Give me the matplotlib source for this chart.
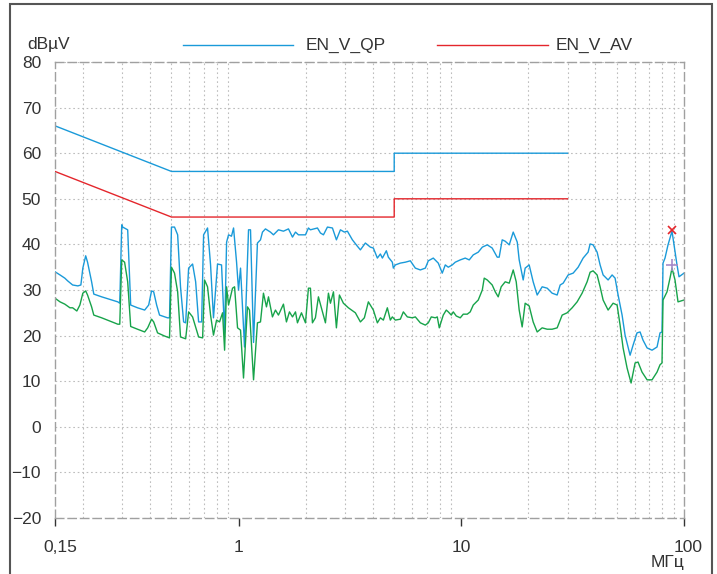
import numpy as np
import matplotlib
matplotlib.use("Agg")
import matplotlib.pyplot as plt
from matplotlib.patches import Rectangle
from matplotlib.ticker import FixedLocator, NullFormatter
from matplotlib.transforms import ScaledTranslation

plt.rcParams['font.family'] = ['Liberation Sans', 'DejaVu Sans']

# --- limit lines (EN 55022 class B, conducted) ---
lim_freq = [0.15, 0.5, 5, 5, 30]
lim_qp = [66, 56, 56, 60, 60]
lim_av = [56, 46, 46, 50, 50]

# --- measured quasi-peak trace (MHz, dBuV) ---
qp_freq = [0.150, 0.158, 0.166, 0.171, 0.180, 0.190, 0.196, 0.200, 0.206, 0.210,
           0.219, 0.224, 0.243, 0.287, 0.293, 0.299, 0.302, 0.318, 0.328, 0.352,
           0.379, 0.395, 0.407, 0.416, 0.429, 0.442, 0.480, 0.490, 0.500, 0.516,
           0.533, 0.549, 0.567, 0.579, 0.597, 0.622, 0.642, 0.662, 0.683, 0.697,
           0.726, 0.749, 0.772, 0.805, 0.839, 0.866, 0.884, 0.902, 0.930, 0.950,
           0.980, 1.000, 1.021, 1.064, 1.109, 1.132, 1.168, 1.216, 1.255, 1.281,
           1.321, 1.391, 1.435, 1.511, 1.591, 1.676, 1.747, 1.802, 1.858, 1.998,
           2.060, 2.103, 2.261, 2.332, 2.406, 2.507, 2.640, 2.751, 2.867, 2.987,
           3.082, 3.245, 3.417, 3.525, 3.711, 3.908, 4.031, 4.201, 4.334, 4.424,
           4.610, 4.706, 4.904, 4.955, 5.058, 5.327, 5.610, 5.907, 6.220, 6.551,
           6.898, 7.113, 7.488, 7.885, 8.217, 8.477, 8.745, 9.113, 9.399, 9.897,
           10.42, 10.86, 11.32, 11.92, 12.43, 13.08, 13.77, 14.50, 14.80, 15.27,
           15.75, 16.42, 17.11, 17.84, 18.20, 18.97, 19.36, 20.18, 21.03, 21.92,
           23.08, 24.31, 25.59, 26.95, 27.80, 28.68, 30.19, 31.80, 33.48, 35.25,
           37.11, 37.89, 39.07, 40.73, 42.01, 43.34, 45.63, 47.56, 49.05, 50.60,
           52.73, 54.38, 57.27, 59.07, 61.53, 63.50, 65.47, 68.27, 71.87, 75.67,
           78.05, 79.67, 80.50, 82.17, 84.77, 88.33, 90.19, 93.03, 94.97, 100.0]
qp_level = [34.0, 33.3, 32.6, 32.0, 31.1, 30.9, 31.1, 34.8, 37.5, 36.1,
            31.8, 29.1, 28.5, 27.4, 27.1, 44.3, 43.8, 43.2, 26.7, 26.1,
            25.6, 26.7, 29.8, 29.6, 26.7, 24.5, 23.9, 23.9, 43.8, 43.8,
            42.1, 30.7, 23.0, 22.8, 34.8, 35.7, 31.8, 23.0, 23.0, 42.1,
            43.6, 35.5, 23.9, 35.7, 35.5, 20.6, 40.5, 42.1, 41.8, 43.6,
            36.1, 30.0, 34.8, 17.5, 43.2, 43.2, 18.5, 40.3, 41.0, 42.7,
            43.4, 42.7, 42.1, 43.2, 42.9, 43.4, 41.6, 42.7, 42.1, 42.1,
            43.6, 43.2, 43.6, 42.5, 42.1, 43.8, 43.6, 41.0, 43.2, 42.7,
            42.9, 41.0, 39.6, 38.8, 40.3, 39.4, 39.2, 37.0, 37.9, 37.0,
            38.6, 37.2, 36.1, 34.8, 35.5, 35.9, 36.1, 36.4, 34.8, 34.4,
            34.8, 36.4, 37.0, 35.9, 33.7, 35.5, 35.0, 35.5, 36.1, 36.6,
            37.0, 36.6, 37.7, 38.3, 39.4, 39.9, 39.2, 37.2, 37.2, 41.0,
            40.7, 39.9, 42.7, 40.5, 36.6, 32.2, 34.8, 35.5, 31.8, 28.9,
            30.7, 30.4, 29.3, 28.9, 31.1, 31.5, 33.3, 33.7, 35.0, 37.0,
            38.3, 40.1, 39.9, 38.3, 35.5, 33.3, 32.2, 33.3, 32.6, 28.9,
            24.5, 20.1, 15.7, 17.9, 20.6, 20.8, 19.0, 17.3, 16.8, 17.5,
            20.6, 20.8, 35.9, 37.0, 39.9, 42.9, 39.9, 35.5, 32.9, 33.7]

# --- measured average trace (MHz, dBuV) ---
av_freq = [0.150, 0.158, 0.166, 0.175, 0.180, 0.188, 0.194, 0.200, 0.206, 0.210,
           0.219, 0.224, 0.243, 0.270, 0.287, 0.293, 0.299, 0.308, 0.318, 0.328,
           0.352, 0.379, 0.391, 0.407, 0.416, 0.433, 0.466, 0.490, 0.500, 0.516,
           0.533, 0.549, 0.579, 0.597, 0.622, 0.642, 0.662, 0.690, 0.704, 0.726,
           0.749, 0.772, 0.797, 0.822, 0.848, 0.866, 0.884, 0.902, 0.940, 0.960,
           0.990, 1.021, 1.053, 1.097, 1.120, 1.168, 1.216, 1.255, 1.294, 1.335,
           1.363, 1.420, 1.465, 1.511, 1.591, 1.641, 1.693, 1.747, 1.802, 1.839,
           1.917, 1.998, 2.060, 2.103, 2.147, 2.214, 2.284, 2.381, 2.456, 2.533,
           2.586, 2.668, 2.751, 2.838, 2.957, 3.113, 3.347, 3.525, 3.673, 3.828,
           4.031, 4.201, 4.334, 4.470, 4.658, 4.804, 4.904, 5.058, 5.327, 5.495,
           5.727, 6.030, 6.220, 6.551, 6.898, 7.113, 7.336, 7.644, 7.804, 7.967,
           8.302, 8.565, 8.745, 9.019, 9.207, 9.497, 9.897, 10.21, 10.64, 10.97,
           11.32, 11.92, 12.43, 12.68, 13.08, 13.77, 14.21, 14.65, 15.11, 15.75,
           16.42, 17.11, 17.65, 18.20, 18.77, 19.36, 20.18, 21.03, 21.92, 23.08,
           24.31, 25.59, 26.95, 27.80, 28.38, 29.88, 31.47, 33.13, 34.88, 36.73,
           37.89, 39.07, 40.73, 42.01, 43.34, 45.63, 48.05, 50.08, 51.65, 53.28,
           55.52, 57.87, 60.31, 62.18, 64.80, 68.27, 71.87, 75.67, 78.05, 79.67,
           80.50, 83.90, 86.52, 88.33, 91.12, 93.99, 100.0]
av_level = [28.2, 27.4, 26.9, 26.1, 26.1, 25.4, 26.7, 29.3, 29.8, 28.9,
            26.3, 24.5, 23.9, 23.0, 22.5, 22.5, 36.6, 36.1, 31.8, 22.0,
            21.4, 20.8, 21.7, 23.6, 23.0, 20.6, 19.9, 19.5, 35.0, 33.7,
            29.6, 19.7, 19.3, 25.2, 24.1, 21.9, 19.7, 19.5, 32.2, 30.7,
            24.5, 20.1, 23.4, 23.0, 25.0, 16.8, 30.7, 26.7, 30.4, 30.7,
            21.7, 21.2, 10.7, 26.3, 25.6, 10.3, 22.8, 23.0, 29.3, 26.3,
            28.5, 24.1, 25.6, 24.5, 26.9, 23.0, 25.2, 24.1, 25.2, 22.8,
            25.0, 22.8, 30.4, 30.4, 22.8, 23.9, 28.5, 25.2, 22.8, 29.3,
            27.1, 29.6, 21.7, 28.9, 27.1, 26.1, 25.0, 23.0, 23.9, 27.4,
            25.6, 22.8, 23.9, 23.4, 26.1, 23.4, 24.1, 23.4, 23.6, 25.2,
            24.1, 23.9, 24.1, 22.8, 22.3, 22.8, 24.1, 23.9, 24.1, 21.7,
            24.5, 25.6, 25.2, 24.5, 25.2, 24.3, 23.9, 24.7, 24.7, 25.2,
            26.7, 27.8, 30.0, 32.6, 32.2, 31.1, 29.6, 28.5, 30.7, 31.8,
            31.5, 34.4, 31.8, 25.6, 21.9, 27.1, 26.5, 23.0, 20.8, 21.7,
            21.4, 21.4, 21.7, 23.4, 24.5, 25.0, 26.1, 27.4, 29.3, 31.8,
            33.9, 34.2, 33.3, 30.7, 27.8, 25.6, 27.1, 26.7, 22.3, 17.3,
            12.9, 9.6, 14.0, 14.2, 12.0, 10.3, 10.3, 12.0, 13.6, 14.0,
            27.8, 29.6, 32.6, 34.8, 32.2, 27.4, 27.8]

# final measurement points
peak_qp = (88.3, 43.2)
peak_av = (88.3, 35.5)

blue = '#1a9ad9'
green = '#17a34a'
red = '#e4262c'
txt = '#333333'

fig = plt.figure(figsize=(7.17, 5.74), dpi=100)
ax = fig.add_axes([55 / 717, 56 / 574, 629 / 717, 456 / 574])

ax.plot(lim_freq, lim_qp, color=blue, lw=1.0)
ax.plot(lim_freq, lim_av, color=red, lw=1.0)
ax.plot(qp_freq, qp_level, color=blue, lw=1.0)
ax.plot(av_freq, av_level, color=green, lw=1.0)
ax.plot(*peak_qp, marker='x', color=red, ms=6, mew=1.2, ls='none')
ax.plot(*peak_av, marker='+', color='#a58bc9', ms=9, mew=1.2, ls='none')

ax.set_xscale('log')
ax.set_xlim(0.15, 100)
ax.set_ylim(-20, 80)

# grid
ax.xaxis.set_major_locator(FixedLocator([0.15, 1, 10, 100]))
ax.set_xticklabels(['0,15', '1', '10', '100'])
minor = [m * d for d in (0.1, 1, 10) for m in range(2, 10) if 0.15 < m * d < 100]
ax.xaxis.set_minor_locator(FixedLocator(minor + [1, 10]))
ax.xaxis.set_minor_formatter(NullFormatter())
ax.set_yticks(np.arange(-20, 81, 10))
ax.grid(True, which='minor', axis='x', color='#bdbdbd', ls=(0, (1.5, 2.5)), lw=0.8)
ax.grid(True, which='major', axis='y', color='#bdbdbd', ls=(0, (1.5, 2.5)), lw=0.8)
ax.tick_params(axis='x', which='minor', length=0)
ax.tick_params(axis='x', which='major', length=6, width=1, color='#333333',
               direction='out', pad=10, labelsize=12.5, labelcolor=txt)
ax.tick_params(axis='y', length=0, pad=10, labelsize=12.5, labelcolor=txt)

# first and last x labels sit a little to the right of their ticks
labels = ax.get_xticklabels()
labels[0].set_transform(labels[0].get_transform() + ScaledTranslation(5 / 100, 0, fig.dpi_scale_trans))
labels[-1].set_transform(labels[-1].get_transform() + ScaledTranslation(4 / 100, 0, fig.dpi_scale_trans))

for s in ax.spines.values():
    s.set_color('#a0a0a0')
    s.set_linestyle((0, (6, 3)))
    s.set_linewidth(1.0)

# axis captions
fig.text(27 / 717, 1 - 45 / 574, 'dBµV', fontsize=12.5, color=txt, va='center', ha='left')
fig.text(668 / 717, 1 - 563 / 574, 'МГц', fontsize=12.5, color=txt, va='center', ha='center')

# legend drawn as a header row
fig.add_artist(plt.Line2D([183 / 717, 293 / 717], [1 - 45 / 574] * 2, color=blue, lw=1.0))
fig.text(306 / 717, 1 - 45 / 574, 'EN_V_QP', fontsize=12.5, color=txt, va='center')
fig.add_artist(plt.Line2D([437 / 717, 548 / 717], [1 - 45 / 574] * 2, color=red, lw=1.0))
fig.text(556 / 717, 1 - 45 / 574, 'EN_V_AV', fontsize=12.5, color=txt, va='center')

# outer frame
fig.add_artist(Rectangle((9.5 / 717, -0.05), 702 / 717, 1.05 - 3.5 / 574,
                         transform=fig.transFigure, fill=False, ec='#555555', lw=1.5))

fig.savefig('out.png', dpi=100, facecolor='white')
